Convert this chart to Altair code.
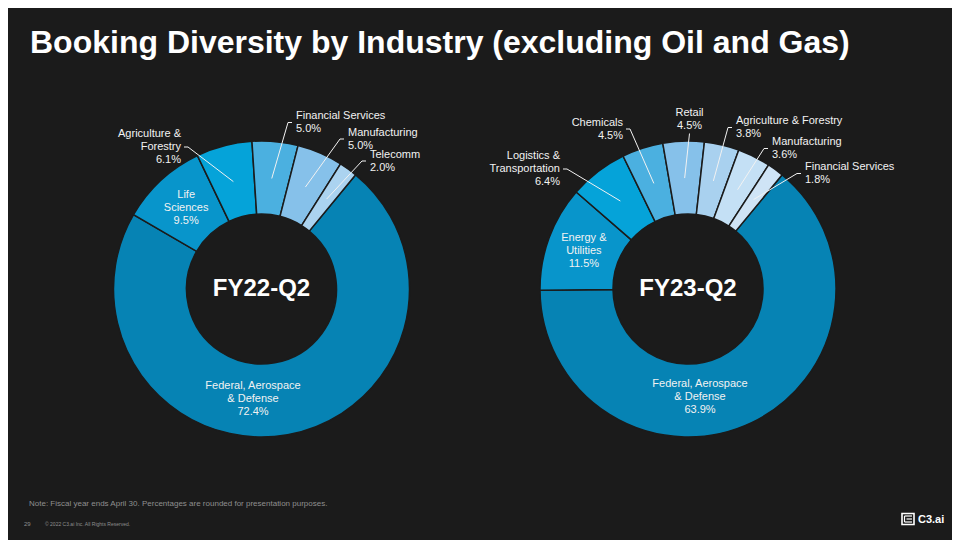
import math
import altair as alt
import pandas as pd

BG = "#1b1b1b"
FONT = "Liberation Sans"
OFF = 8  # page margin of the html page

# ---- data ----
fy22_names = ["Federal, Aerospace\n& Defense", "Life\nSciences", "Agriculture &\nForestry",
              "Financial Services", "Manufacturing", "Telecomm"]
fy22_values = [72.4, 9.5, 6.1, 5.0, 5.0, 2.0]
fy22_colors = ["#0683b4", "#0895cb", "#05a3d9", "#4bb0e0", "#86c1ea", "#abd3f0"]

fy23_names = ["Federal, Aerospace\n& Defense", "Energy &\nUtilities", "Logistics &\nTransportation",
              "Chemicals", "Retail", "Agriculture & Forestry", "Manufacturing", "Financial Services"]
fy23_values = [63.9, 11.5, 6.4, 4.5, 4.5, 3.8, 3.6, 1.8]
fy23_colors = ["#0683b4", "#0895cb", "#05a3d9", "#4bb0e0", "#86c1ea", "#a9d1ef", "#c4e0f5", "#cfe4f6"]

# ---- label layout (page coordinates of the label block centre): kind, align, x, y ----
fy22_layout = [("manual", "center", 253, 399), ("inside", "center", 0, 0),
               ("leader", "right", 181, 147), ("leader", "left", 296, 122.5),
               ("leader", "left", 348, 139), ("leader", "left", 370, 161)]
fy23_layout = [("manual", "center", 700, 397), ("inside", "center", 0, 0),
               ("leader", "right", 560, 169), ("leader", "right", 623, 129),
               ("leader", "center", 689.5, 119.5), ("leader", "left", 736, 127.5),
               ("leader", "left", 772, 148.5), ("leader", "left", 805, 173.5)]

START = math.radians(39.5)
R_IN, R_OUT, R_LAB = 75, 148, 111
LINE_H = 13
LABEL_COLOR = "#f2f2f2"


def donut(names, values, colors, layout, cx, cy, center_text):
    rows = []
    for i, (n, v, c, l) in enumerate(zip(names, values, colors, layout)):
        kind, align, lx, ly = l
        label = f"{n}\n{v:.1f}%"
        rows.append(dict(name=n, value=v, color=c, order=i, kind=kind, align=align,
                         lx=lx - OFF, ly=ly - OFF, label=label, nl=label.count("\n") + 1))
    df = pd.DataFrame(rows)
    cx -= OFF
    cy -= OFF
    theta = alt.Theta("value:Q", stack=True,
                      scale=alt.Scale(range=[START, START + 2 * math.pi]))
    arcs = alt.Chart(df).mark_arc(innerRadius=R_IN, outerRadius=R_OUT, stroke=BG,
                                  strokeWidth=1.5).encode(
        theta=theta, order=alt.Order("order:Q"),
        color=alt.Color("color:N", scale=None),
        x=alt.value(cx), y=alt.value(cy))

    base = alt.Chart(df).transform_joinaggregate(total="sum(value)").transform_window(
        cum="sum(value)", sort=[alt.SortField("order")], frame=[None, 0]
    ).transform_calculate(
        mid=f"{START} + 2*PI*(datum.cum - datum.value/2)/datum.total",
        px=f"{cx} + {R_LAB}*sin(datum.mid)",
        py=f"{cy} - {R_LAB}*cos(datum.mid)",
        tx="datum.kind == 'inside' ? datum.px : datum.lx",
        ty=f"(datum.kind == 'inside' ? datum.py : datum.ly) - (datum.nl - 1) * {LINE_H} / 2",
        ex="datum.align == 'left' ? datum.lx - 8 : (datum.align == 'right' ? datum.lx + 7 : datum.lx)",
        ey="datum.align == 'center' ? datum.ly + 14 : datum.ly",
        kx="datum.align == 'left' ? datum.lx - 4 : (datum.align == 'right' ? datum.lx + 3 : datum.lx)",
    )
    leaders = base.transform_filter("datum.kind == 'leader'")
    diag = leaders.mark_rule(color=LABEL_COLOR, strokeWidth=1).encode(
        x=alt.X("ex:Q", scale=None, axis=None), y=alt.Y("ey:Q", scale=None, axis=None),
        x2="px:Q", y2="py:Q")
    tick = leaders.mark_rule(color=LABEL_COLOR, strokeWidth=1).encode(
        x=alt.X("ex:Q", scale=None, axis=None), y=alt.Y("ey:Q", scale=None, axis=None),
        x2="kx:Q", y2="ey:Q")
    texts = []
    for a in ["left", "right", "center"]:
        texts.append(base.transform_filter(f"datum.align == '{a}'").mark_text(
            align=a, baseline="middle", lineBreak="\n", lineHeight=LINE_H, font=FONT,
            fontSize=11, color=LABEL_COLOR).encode(
            x=alt.X("tx:Q", scale=None, axis=None), y=alt.Y("ty:Q", scale=None, axis=None),
            text="label:N"))
    center = alt.Chart(pd.DataFrame({"t": [center_text]})).mark_text(
        font=FONT, fontSize=24, fontWeight="bold", color="white", align="center",
        baseline="middle").encode(x=alt.value(cx), y=alt.value(cy), text="t:N")
    return [arcs, diag, tick] + texts + [center]


left = donut(fy22_names, fy22_values, fy22_colors, fy22_layout, 261.5, 289, "FY22-Q2")
right = donut(fy23_names, fy23_values, fy23_colors, fy23_layout, 688, 289, "FY23-Q2")

one = pd.DataFrame({"t": ["x"]})


def txt(s, x, y, size, color, weight="normal", align="left"):
    return alt.Chart(pd.DataFrame({"t": [s]})).mark_text(
        font=FONT, fontSize=size, fontWeight=weight, color=color, align=align,
        baseline="alphabetic").encode(x=alt.value(x - OFF), y=alt.value(y - OFF), text="t:N")


title = txt("Booking Diversity by Industry (excluding Oil and Gas)", 30, 53, 32, "white", "bold")
note = txt("Note: Fiscal year ends April 30. Percentages are rounded for presentation purposes.",
           29, 506, 8, "#8f8f8f")
page = txt("29", 24, 526, 6, "#8f8f8f")
copy = txt("\u00a9 2022 C3.ai Inc. All Rights Reserved.", 45, 526, 5, "#8f8f8f")
logo_txt = txt("C3.ai", 918, 523, 11, "white", "bold")

logo_box = alt.Chart(one).mark_rect(fill=BG, stroke="white", strokeWidth=1.6).encode(
    x=alt.value(902 - OFF), x2=alt.value(914 - OFF), y=alt.value(513.5 - OFF), y2=alt.value(524.5 - OFF))
logo_lines = pd.DataFrame({"x1": [904.5, 904.5, 906.5, 904.5],
                           "x2": [912, 904.5, 912, 912],
                           "y1": [516, 516, 519, 522],
                           "y2": [516, 522, 519, 522]})
logo_inner = alt.Chart(logo_lines).transform_calculate(
    ax=f"datum.x1 - {OFF}", bx=f"datum.x2 - {OFF}", ay=f"datum.y1 - {OFF}", by=f"datum.y2 - {OFF}"
).mark_rule(color="white", strokeWidth=1.2).encode(
    x=alt.X("ax:Q", scale=None, axis=None), x2="bx:Q",
    y=alt.Y("ay:Q", scale=None, axis=None), y2="by:Q")

chart = alt.layer(*left, *right, title, note, page, copy, logo_box, logo_inner, logo_txt).properties(
    width=944, height=532, background=BG, padding=0, autosize="none"
).configure_view(stroke=None)

chart.save("out.html", embed_options={"renderer": "svg", "actions": False})
